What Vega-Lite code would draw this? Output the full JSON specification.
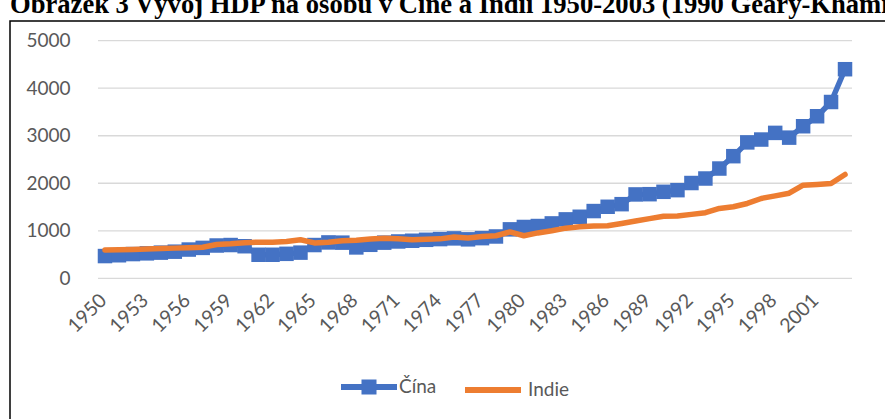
{
  "$schema": "https://vega.github.io/schema/vega-lite/v6.json",
  "width": 881,
  "height": 405,
  "autosize": {"type": "none"},
  "padding": {"left": 10, "top": 21, "right": -6, "bottom": -7},
  "background": "white",
  "title": {
    "text": "Obrázek 3 Vývoj HDP na osobu v Číně a Indii 1950-2003 (1990 Geary-Khamis $)",
    "anchor": "start",
    "frame": "group",
    "font": "Liberation Serif",
    "fontSize": 26.6,
    "fontWeight": "bold",
    "color": "#000000",
    "baseline": "alphabetic",
    "offset": -19
  },
  "config": {
    "view": {"stroke": "#000000", "strokeWidth": 1.5},
    "axis": {"labelFont": "Lato", "labelFontSize": 19, "labelColor": "#595959"},
    "legend": {"labelFont": "Lato", "labelFontSize": 19, "labelColor": "#595959"}
  },
  "datasets": {
    "grid": [{"v": 0}, {"v": 1000}, {"v": 2000}, {"v": 3000}, {"v": 4000}, {"v": 5000}],
    "gdp": [
      {"year": 1950, "country": "Čína", "gdp": 468},
      {"year": 1951, "country": "Čína", "gdp": 485},
      {"year": 1952, "country": "Čína", "gdp": 510},
      {"year": 1953, "country": "Čína", "gdp": 525},
      {"year": 1954, "country": "Čína", "gdp": 540},
      {"year": 1955, "country": "Čína", "gdp": 560},
      {"year": 1956, "country": "Čína", "gdp": 605},
      {"year": 1957, "country": "Čína", "gdp": 640},
      {"year": 1958, "country": "Čína", "gdp": 690},
      {"year": 1959, "country": "Čína", "gdp": 700},
      {"year": 1960, "country": "Čína", "gdp": 675},
      {"year": 1961, "country": "Čína", "gdp": 495},
      {"year": 1962, "country": "Čína", "gdp": 495},
      {"year": 1963, "country": "Čína", "gdp": 515},
      {"year": 1964, "country": "Čína", "gdp": 540},
      {"year": 1965, "country": "Čína", "gdp": 700},
      {"year": 1966, "country": "Čína", "gdp": 755},
      {"year": 1967, "country": "Čína", "gdp": 750},
      {"year": 1968, "country": "Čína", "gdp": 650},
      {"year": 1969, "country": "Čína", "gdp": 705},
      {"year": 1970, "country": "Čína", "gdp": 750},
      {"year": 1971, "country": "Čína", "gdp": 775},
      {"year": 1972, "country": "Čína", "gdp": 790},
      {"year": 1973, "country": "Čína", "gdp": 810},
      {"year": 1974, "country": "Čína", "gdp": 825},
      {"year": 1975, "country": "Čína", "gdp": 840},
      {"year": 1976, "country": "Čína", "gdp": 820},
      {"year": 1977, "country": "Čína", "gdp": 845},
      {"year": 1978, "country": "Čína", "gdp": 880},
      {"year": 1979, "country": "Čína", "gdp": 1030},
      {"year": 1980, "country": "Čína", "gdp": 1080},
      {"year": 1981, "country": "Čína", "gdp": 1100},
      {"year": 1982, "country": "Čína", "gdp": 1155},
      {"year": 1983, "country": "Čína", "gdp": 1240},
      {"year": 1984, "country": "Čína", "gdp": 1295},
      {"year": 1985, "country": "Čína", "gdp": 1415},
      {"year": 1986, "country": "Čína", "gdp": 1505},
      {"year": 1987, "country": "Čína", "gdp": 1560},
      {"year": 1988, "country": "Čína", "gdp": 1765},
      {"year": 1989, "country": "Čína", "gdp": 1770},
      {"year": 1990, "country": "Čína", "gdp": 1820},
      {"year": 1991, "country": "Čína", "gdp": 1855},
      {"year": 1992, "country": "Čína", "gdp": 2005},
      {"year": 1993, "country": "Čína", "gdp": 2100},
      {"year": 1994, "country": "Čína", "gdp": 2310},
      {"year": 1995, "country": "Čína", "gdp": 2570},
      {"year": 1996, "country": "Čína", "gdp": 2860},
      {"year": 1997, "country": "Čína", "gdp": 2920},
      {"year": 1998, "country": "Čína", "gdp": 3060},
      {"year": 1999, "country": "Čína", "gdp": 2960},
      {"year": 2000, "country": "Čína", "gdp": 3200},
      {"year": 2001, "country": "Čína", "gdp": 3410},
      {"year": 2002, "country": "Čína", "gdp": 3710},
      {"year": 2003, "country": "Čína", "gdp": 4400},
      {"year": 1950, "country": "Indie", "gdp": 595},
      {"year": 1951, "country": "Indie", "gdp": 600},
      {"year": 1952, "country": "Indie", "gdp": 605},
      {"year": 1953, "country": "Indie", "gdp": 615},
      {"year": 1954, "country": "Indie", "gdp": 625},
      {"year": 1955, "country": "Indie", "gdp": 635},
      {"year": 1956, "country": "Indie", "gdp": 645},
      {"year": 1957, "country": "Indie", "gdp": 655},
      {"year": 1958, "country": "Indie", "gdp": 710},
      {"year": 1959, "country": "Indie", "gdp": 725},
      {"year": 1960, "country": "Indie", "gdp": 750},
      {"year": 1961, "country": "Indie", "gdp": 760},
      {"year": 1962, "country": "Indie", "gdp": 760},
      {"year": 1963, "country": "Indie", "gdp": 775},
      {"year": 1964, "country": "Indie", "gdp": 810},
      {"year": 1965, "country": "Indie", "gdp": 745},
      {"year": 1966, "country": "Indie", "gdp": 760},
      {"year": 1967, "country": "Indie", "gdp": 790},
      {"year": 1968, "country": "Indie", "gdp": 800},
      {"year": 1969, "country": "Indie", "gdp": 825},
      {"year": 1970, "country": "Indie", "gdp": 845},
      {"year": 1971, "country": "Indie", "gdp": 830},
      {"year": 1972, "country": "Indie", "gdp": 810},
      {"year": 1973, "country": "Indie", "gdp": 820},
      {"year": 1974, "country": "Indie", "gdp": 830},
      {"year": 1975, "country": "Indie", "gdp": 870},
      {"year": 1976, "country": "Indie", "gdp": 850},
      {"year": 1977, "country": "Indie", "gdp": 880},
      {"year": 1978, "country": "Indie", "gdp": 895},
      {"year": 1979, "country": "Indie", "gdp": 975},
      {"year": 1980, "country": "Indie", "gdp": 895},
      {"year": 1981, "country": "Indie", "gdp": 955},
      {"year": 1982, "country": "Indie", "gdp": 1000},
      {"year": 1983, "country": "Indie", "gdp": 1055},
      {"year": 1984, "country": "Indie", "gdp": 1085},
      {"year": 1985, "country": "Indie", "gdp": 1100},
      {"year": 1986, "country": "Indie", "gdp": 1105},
      {"year": 1987, "country": "Indie", "gdp": 1155},
      {"year": 1988, "country": "Indie", "gdp": 1205},
      {"year": 1989, "country": "Indie", "gdp": 1255},
      {"year": 1990, "country": "Indie", "gdp": 1305},
      {"year": 1991, "country": "Indie", "gdp": 1310},
      {"year": 1992, "country": "Indie", "gdp": 1345},
      {"year": 1993, "country": "Indie", "gdp": 1380},
      {"year": 1994, "country": "Indie", "gdp": 1470},
      {"year": 1995, "country": "Indie", "gdp": 1505},
      {"year": 1996, "country": "Indie", "gdp": 1575},
      {"year": 1997, "country": "Indie", "gdp": 1680},
      {"year": 1998, "country": "Indie", "gdp": 1735},
      {"year": 1999, "country": "Indie", "gdp": 1790},
      {"year": 2000, "country": "Indie", "gdp": 1960},
      {"year": 2001, "country": "Indie", "gdp": 1975},
      {"year": 2002, "country": "Indie", "gdp": 1995},
      {"year": 2003, "country": "Indie", "gdp": 2185}
    ]
  },
  "layer": [
    {
      "data": {"name": "grid"},
      "mark": {"type": "rule", "color": "#d9d9d9", "strokeWidth": 1.3},
      "encoding": {
        "y": {
          "field": "v", "type": "quantitative", "title": null,
          "scale": {"domain": [0, 5000], "range": [257.3, 19.7], "nice": false, "zero": false},
          "axis": {"values": [0, 1000, 2000, 3000, 4000, 5000], "format": "d", "grid": false, "domain": false, "ticks": false, "labelPadding": 0, "offset": -60, "title": null}
        },
        "x": {
          "datum": 1949.5, "type": "quantitative", "title": null,
          "scale": {"domain": [1949.5, 2003.5], "range": [88, 842], "nice": false, "zero": false},
          "axis": {"values": [1950, 1953, 1956, 1959, 1962, 1965, 1968, 1971, 1974, 1977, 1980, 1983, 1986, 1989, 1992, 1995, 1998, 2001], "format": "d", "labelAngle": -45, "labelBaseline": "middle", "labelAlign": "right", "labelOffset": -2, "labelFontSize": 19.5, "grid": false, "domain": false, "ticks": false, "labelPadding": 7, "labelOverlap": false, "labelFlush": false, "labelBound": false, "offset": -136, "title": null}
        },
        "x2": {"datum": 2003.5}
      }
    },
    {
      "data": {"name": "gdp"},
      "transform": [{"filter": "datum.country === 'Čína'"}],
      "mark": {"type": "line", "color": "#4472C4", "strokeWidth": 5.5, "strokeJoin": "round"},
      "encoding": {
        "x": {"field": "year", "type": "quantitative", "title": null},
        "y": {"field": "gdp", "type": "quantitative", "title": null}
      }
    },
    {
      "data": {"name": "gdp"},
      "transform": [{"filter": "datum.country === 'Čína'"}],
      "mark": {"type": "point", "shape": "square", "filled": true, "size": 210, "opacity": 1},
      "encoding": {
        "x": {"field": "year", "type": "quantitative", "title": null},
        "y": {"field": "gdp", "type": "quantitative", "title": null},
        "fill": {
          "field": "country", "type": "nominal",
          "scale": {"domain": ["Čína"], "range": ["#4472C4"]},
          "legend": {"title": null, "orient": "none", "legendX": 331, "legendY": 338, "symbolType": "M-1,-0.107L1,-0.107L1,0.107L-1,0.107Z M-0.268,-0.268L0.268,-0.268L0.268,0.268L-0.268,0.268Z", "symbolSize": 3136, "symbolStrokeWidth": 0, "labelOffset": 2, "symbolOpacity": 1}
        }
      }
    },
    {
      "data": {"name": "gdp"},
      "transform": [{"filter": "datum.country === 'Indie'"}],
      "mark": {"type": "line", "strokeWidth": 5.5, "strokeJoin": "round", "strokeCap": "round"},
      "encoding": {
        "x": {"field": "year", "type": "quantitative", "title": null},
        "y": {"field": "gdp", "type": "quantitative", "title": null},
        "stroke": {
          "field": "country", "type": "nominal",
          "scale": {"domain": ["Indie"], "range": ["#ED7D31"]},
          "legend": {"title": null, "orient": "none", "legendX": 452, "legendY": 338, "symbolType": "M-1,0L1,0", "symbolSize": 3136, "symbolStrokeWidth": 6, "labelOffset": 4, "symbolOpacity": 1}
        }
      }
    }
  ]
}
